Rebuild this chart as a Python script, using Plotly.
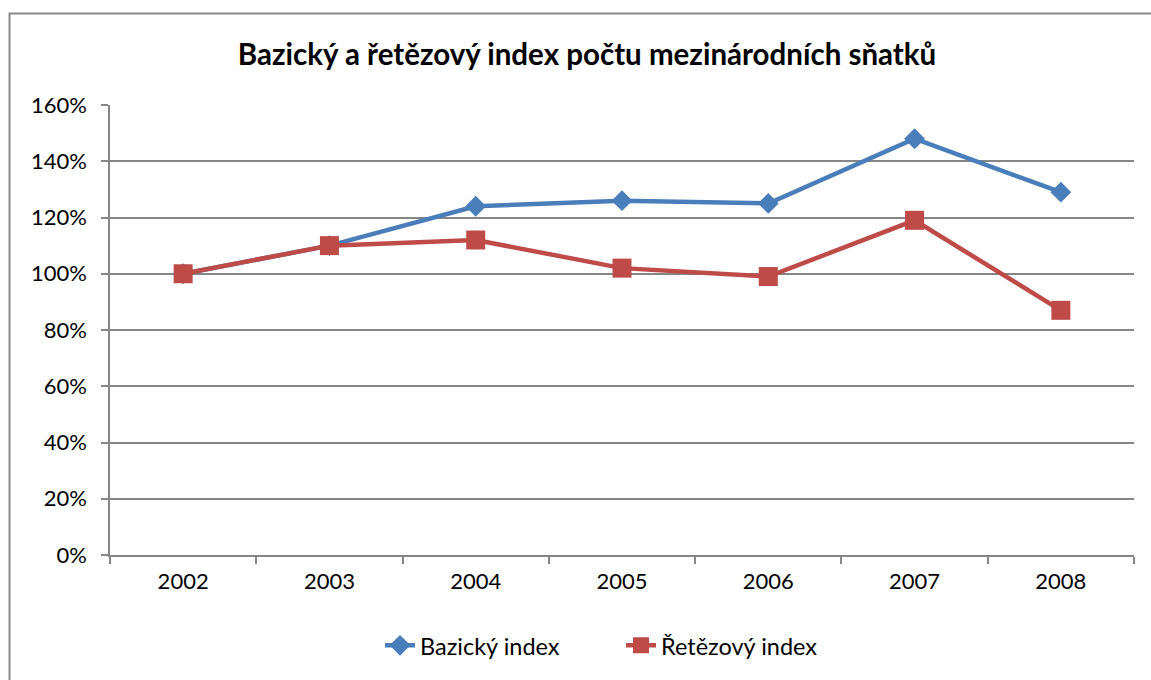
import plotly.graph_objects as go

years = ["2002", "2003", "2004", "2005", "2006", "2007", "2008"]
bazicky = [1.00, 1.10, 1.24, 1.26, 1.25, 1.48, 1.29]
retezovy = [1.00, 1.10, 1.12, 1.02, 0.99, 1.19, 0.87]
y_ticks = [0, 0.2, 0.4, 0.6, 0.8, 1.0, 1.2, 1.4, 1.6]

W, H = 1151, 680
L, R, T, B = 110, 17, 105, 123
pw, ph = W - L - R, H - T - B

def px_x(p):
    return (p - L) / pw

def px_y(p):
    return (H - B - p) / ph

FONT = "Lato, Carlito, Calibri, sans-serif"
GRID = "#868686"

fig = go.Figure()
fig.add_trace(go.Scatter(
    x=years, y=bazicky, name="Bazický index", mode="lines+markers",
    line=dict(color="#4A7EBB", width=4.5),
    marker=dict(symbol="diamond", size=16, color="#4A7EBB"),
))
fig.add_trace(go.Scatter(
    x=years, y=retezovy, name="Řetězový index", mode="lines+markers",
    line=dict(color="#BE4B48", width=4.5),
    marker=dict(symbol="square", size=19, color="#BE4B48"),
))

fig.update_layout(
    width=W, height=H,
    margin=dict(l=L, r=R, t=T, b=B),
    paper_bgcolor="white", plot_bgcolor="white",
    font=dict(family=FONT, size=22, color="black"),
    title=dict(
        text="<b>Bazický a řetězový index počtu mezinárodních sňatků</b>",
        font=dict(family=FONT, size=29.5, color="black"),
        x=px_x(587), xref="paper", xanchor="center",
        y=1 - 55 / H, yanchor="middle",
    ),
    showlegend=True,
    legend=dict(
        orientation="h", x=px_x(621), xanchor="center",
        y=px_y(648), yanchor="middle",
        font=dict(family=FONT, size=23.5),
        entrywidth=196, entrywidthmode="pixels",
        tracegroupgap=0, bgcolor="rgba(0,0,0,0)",
    ),
    xaxis=dict(
        type="category", range=[-0.5, 6.5],
        showgrid=False, showline=True, linecolor=GRID, linewidth=1.5,
        ticks="outside", tickson="boundaries", ticklen=7, tickcolor=GRID, tickwidth=1.5,
        tickfont=dict(family=FONT, size=22), ticklabelstandoff=6,
        zeroline=False,
    ),
    yaxis=dict(
        range=[0, 1.6], tickvals=y_ticks, tickformat=".0%",
        showgrid=True, gridcolor=GRID, gridwidth=1.5,
        showline=True, linecolor=GRID, linewidth=1.5,
        ticks="outside", ticklen=7, tickcolor=GRID, tickwidth=1.5,
        tickfont=dict(family=FONT, size=22), ticklabelstandoff=10,
        zeroline=False,
    ),
    shapes=[dict(
        type="rect", xref="paper", yref="paper",
        x0=px_x(9.5), x1=px_x(1300), y0=px_y(800), y1=px_y(13),
        line=dict(color="#898989", width=2), fillcolor="rgba(0,0,0,0)", layer="below",
    )],
)

fig.write_html(
    "out.html",
    config={"displayModeBar": False},
    post_script="document.body.style.margin='0';document.body.style.overflow='hidden';",
)
